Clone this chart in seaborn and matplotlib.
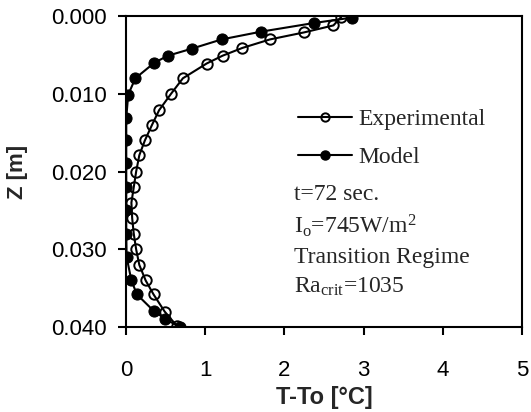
import numpy as np
import pandas as pd
import matplotlib
matplotlib.use("Agg")
import matplotlib.pyplot as plt
from matplotlib.lines import Line2D
import seaborn as sns

# experimental profile (open circles)
exp_T = [2.72, 2.62, 2.25, 1.82, 1.47, 1.22, 1.02, 0.72, 0.57, 0.42, 0.33, 0.24,
         0.17, 0.13, 0.10, 0.07, 0.08, 0.10, 0.13, 0.17, 0.25, 0.35, 0.49, 0.64]
exp_Z = [0.0001, 0.0012, 0.0021, 0.0030, 0.0041, 0.0051, 0.0061, 0.0080, 0.0100,
         0.0121, 0.0140, 0.0160, 0.0179, 0.0200, 0.0220, 0.0240, 0.0260, 0.0280,
         0.0300, 0.0320, 0.0340, 0.0358, 0.0380, 0.0398]

# model profile (filled circles)
mod_T = [2.85, 2.37, 1.71, 1.21, 0.83, 0.53, 0.36, 0.12, 0.03, 0.005, 0.005, 0.005,
         0.005, 0.005, 0.005, 0.01, 0.07, 0.14, 0.35, 0.49, 0.68]
mod_Z = [0.0002, 0.0009, 0.0020, 0.0030, 0.0042, 0.0051, 0.0060, 0.0080, 0.0101,
         0.0131, 0.0160, 0.0189, 0.0220, 0.0250, 0.0280, 0.0310, 0.0340, 0.0358,
         0.0379, 0.0389, 0.0400]

x_ticks = [0, 1, 2, 3, 4, 5]
y_ticks = [0.000, 0.010, 0.020, 0.030, 0.040]

sns.set_style("ticks")
plt.rcParams['font.family'] = ['Liberation Sans', 'DejaVu Sans']
plt.rcParams['mathtext.fontset'] = 'custom'
plt.rcParams['mathtext.rm'] = 'Liberation Serif'
plt.rcParams['mathtext.it'] = 'Liberation Serif:italic'

fig = plt.figure(figsize=(5.31, 4.12), dpi=100)
ax = fig.add_axes([0.237, 0.206, 0.746, 0.755])

sns.lineplot(x=exp_T, y=exp_Z, ax=ax, sort=False, estimator=None, color='black',
             lw=1.5, marker='o', markersize=7.5, markerfacecolor='none',
             markeredgecolor='black', markeredgewidth=1.4)
sns.lineplot(x=mod_T, y=mod_Z, ax=ax, sort=False, estimator=None, color='black',
             lw=1.5, marker='o', markersize=8, markerfacecolor='black',
             markeredgecolor='black')

ax.set_xlim(0, 5)
ax.set_ylim(0.040, 0.000)
ax.set_xticks(x_ticks)
ax.set_yticks(y_ticks)
ax.set_yticklabels(["%.3f" % v for v in y_ticks])
ax.tick_params(labelsize=16, length=6, width=1.5, color='black', labelcolor='black')
ax.tick_params(axis='x', pad=18)
ax.tick_params(axis='y', pad=8)
for s in ax.spines.values():
    s.set_linewidth(1.5)
    s.set_color('black')

ax.set_xlabel("T-To [°C]", fontsize=17, fontweight='bold', labelpad=3)
ax.set_ylabel("Z [m]", fontsize=16, fontweight='bold', labelpad=16)

handles = [Line2D([], [], color='black', lw=1.5, marker='o', markersize=6,
                  markerfacecolor='none', markeredgewidth=1.4),
           Line2D([], [], color='black', lw=1.5, marker='o', markersize=6.5,
                  markerfacecolor='black')]
ax.legend(handles, ["Experimental", "Model"], loc='upper left',
          bbox_to_anchor=(0.393, 0.755), frameon=False, handlelength=2.3,
          handletextpad=0.25, labelspacing=0.68, borderaxespad=0.3,
          prop={'family': 'Liberation Serif', 'size': 17})

notes = ["t=72 sec.", r"I$_\mathrm{o}$=745W/m$^\mathrm{2}$", "Transition Regime",
         r"Ra$_\mathrm{crit}$=1035"]
note_y = [0.41, 0.303, 0.205, 0.112]
for txt, yy in zip(notes, note_y):
    ax.text(0.424, yy, txt, transform=ax.transAxes, ha='left', va='baseline',
            fontsize=17, family='Liberation Serif')

fig.savefig("out.png", dpi=100)
